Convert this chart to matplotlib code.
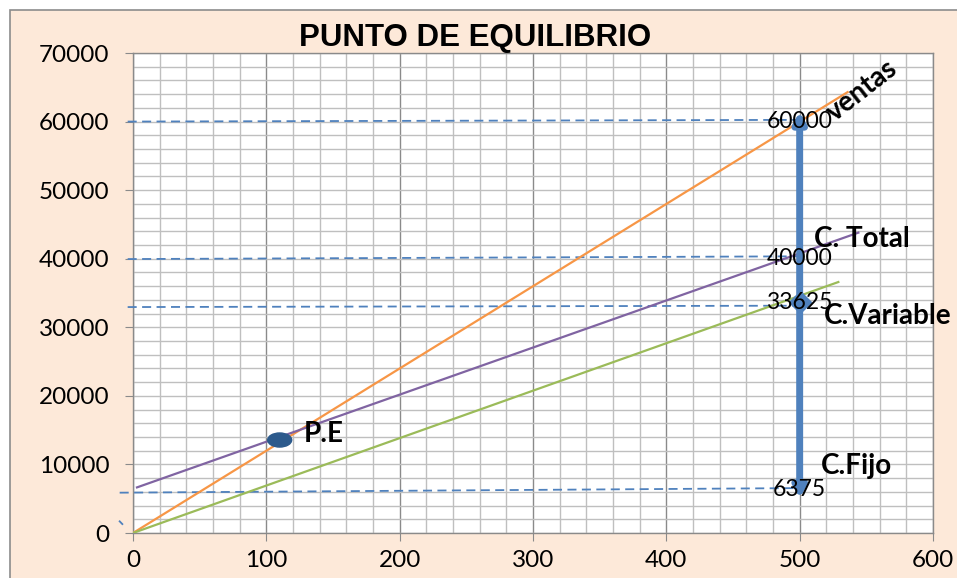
import matplotlib
matplotlib.use("Agg")
import matplotlib.pyplot as plt
from matplotlib.patches import Rectangle, Ellipse
from matplotlib.ticker import MultipleLocator

# ---- data ----
ventas_x = [0, 536]
ventas_y = [0, 64300]
ctotal_x = [3, 544]
ctotal_y = [6650, 43800]
cvar_x = [0, 529]
cvar_y = [0, 36600]

# reference (dashed) levels: left end, right end
ref_levels = {
    "60000": ([-4, 500], [60000, 60250]),
    "40000": ([-4, 500], [39950, 40350]),
    "33625": ([-4, 500], [32950, 33150]),
    "6375": ([-10, 500], [5880, 6550]),
}
label_vals = ["60000", "40000", "33625", "6375"]
label_y = [60000, 40000, 33625, 6375]

arrow_x = 500
arrow_top = 61400
arrow_mid = 33625
arrow_bot = 5100

pe_x, pe_y = 110, 13560

title = "PUNTO DE EQUILIBRIO"

# ---- colours ----
orange = "#F79646"
purple = "#8064A2"
green = "#9BBB59"
blue = "#4F81BD"
peach = "#FDE9D9"

fig = plt.figure(figsize=(9.57, 5.78), dpi=100)
fig.patch.set_facecolor("white")
bg = Rectangle((10 / 957, -0.05), 1.1, 1.05 - 10 / 578,
               transform=fig.transFigure, facecolor=peach,
               edgecolor="#8C8C8C", linewidth=1.2, zorder=-10)
fig.patches.append(bg)

ax = fig.add_axes([133 / 957, 1 - 533 / 578, (933 - 133) / 957, (533 - 53) / 578])
ax.set_zorder(1)
ax.set_facecolor("white")
ax.set_xlim(0, 600)
ax.set_ylim(0, 70000)

ax.xaxis.set_major_locator(MultipleLocator(100))
ax.xaxis.set_minor_locator(MultipleLocator(20))
ax.yaxis.set_major_locator(MultipleLocator(10000))
ax.yaxis.set_minor_locator(MultipleLocator(2000))
ax.grid(which="minor", color="#BFBFBF", linewidth=1.0)
ax.grid(which="major", axis="y", color="#BFBFBF", linewidth=1.0)
ax.grid(which="major", axis="x", color="#8A8A8A", linewidth=1.0)
ax.set_axisbelow(True)
for s in ax.spines.values():
    s.set_color("#8A8A8A")
    s.set_linewidth(1.0)
ax.tick_params(which="minor", length=0)
ax.tick_params(which="major", length=6, color="#8A8A8A", labelsize=17.5)
ax.tick_params(axis="y", pad=11)
ax.tick_params(axis="x", pad=6)
for lab in ax.get_xticklabels() + ax.get_yticklabels():
    lab.set_fontfamily("Lato")

# dashed reference lines
for key, (xs, ys) in ref_levels.items():
    ax.plot(xs, ys, color=blue, linestyle=(0, (5, 3)), linewidth=1.3,
            clip_on=False, zorder=3)
ax.plot([-10, -8], [1700, 1300], color=blue, linewidth=1.3, clip_on=False, zorder=3)

# main lines
ax.plot(ventas_x, ventas_y, color=orange, linewidth=1.6, zorder=4)
ax.plot(ctotal_x, ctotal_y, color=purple, linewidth=1.6, zorder=4)
ax.plot(cvar_x, cvar_y, color=green, linewidth=1.6, zorder=4)

# vertical arrows
akw = dict(arrowstyle="-|>,head_length=0.6,head_width=0.35", color=blue,
           linewidth=5, shrinkA=0, shrinkB=0)
ax.annotate("", xy=(arrow_x, arrow_top), xytext=(arrow_x, arrow_mid),
            arrowprops=akw, zorder=5)
ax.annotate("", xy=(arrow_x, arrow_bot), xytext=(arrow_x, arrow_mid),
            arrowprops=akw, zorder=5)
ax.plot([arrow_x], [arrow_mid], marker="D", color=blue, markersize=11, zorder=5)

# value labels
for txt, yv in zip(label_vals, label_y):
    ax.text(arrow_x, yv, txt, ha="center", va="center", fontsize=16.5,
            family="Lato", color="black", zorder=6)

# P.E marker
ax.add_patch(Ellipse((pe_x, pe_y), 18, 2050, facecolor="#2C5A8C",
                     edgecolor="#2C5A8C", zorder=6))
ax.text(128, 14500, "P.E", fontsize=20, fontweight="bold", family="Lato",
        va="center", ha="left", zorder=6)

# series labels
ax.text(547, 64500, "ventas", fontsize=20, fontweight="bold", family="Lato",
        rotation=38, ha="center", va="center", rotation_mode="anchor", zorder=6,
        clip_on=False)
ax.text(511, 42900, "C. Total", fontsize=20, fontweight="bold", family="Lato",
        ha="left", va="center", zorder=6, clip_on=False)
ax.text(518, 31700, "C.Variable", fontsize=20, fontweight="bold", family="Lato",
        ha="left", va="center", zorder=6, clip_on=False)
ax.text(516, 9700, "C.Fijo", fontsize=20, fontweight="bold", family="Lato",
        ha="left", va="center", zorder=6, clip_on=False)

fig.text(475.5 / 957, 1 - 38 / 578, title, fontsize=22.5, fontweight="bold",
         family="Liberation Sans", ha="center", va="center", zorder=2)

fig.savefig("out.png", dpi=100, facecolor=fig.get_facecolor())
